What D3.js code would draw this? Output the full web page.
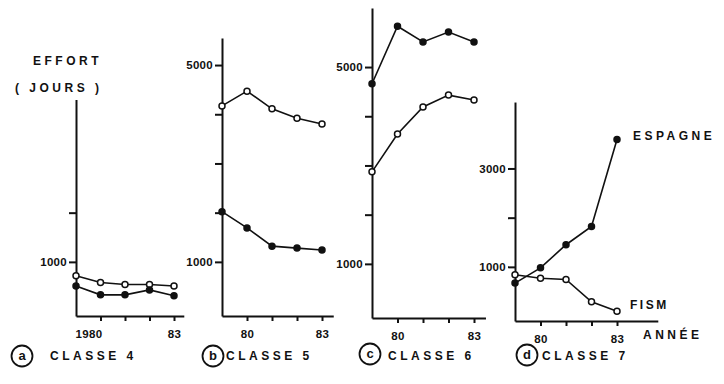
<!DOCTYPE html>
<html lang="fr">
<head>
<meta charset="UTF-8">
<title>Effort par classe</title>
<script src="https://d3js.org/d3.v7.min.js"></script>
<style>
  body { margin: 0; background: #fff; }
  svg { display: block; }
  .lbl {
    font-family: 'Liberation Sans', Arial, sans-serif;
    font-weight: bold;
    font-size: 12px;
    letter-spacing: 3.5px;
    fill: #111;
  }
  .tick text {
    font-family: 'Liberation Sans', Arial, sans-serif;
    font-weight: bold;
    font-size: 11.5px;
    letter-spacing: 0.3px;
    fill: #111;
  }
  .axis path, .axis line { stroke: #111; stroke-width: 2; }
  .serie { fill: none; stroke: #111; stroke-width: 1.6; }
</style>
</head>
<body>
<svg width="724" height="384"></svg>
<script>
// annees et valeurs (jours d'effort)
const years = [1979, 1980, 1981, 1982, 1983];
const xTickYears = [1980, 1981, 1982, 1983];
const classe4Open = [720, 580, 540, 540, 510];
const classe4Dot = [510, 330, 330, 430, 310];
const classe5Open = [4170, 4470, 4110, 3920, 3800];
const classe5Dot = [2020, 1690, 1320, 1280, 1240];
const classe6Dot = [4660, 5830, 5510, 5710, 5510];
const classe6Open = [2870, 3640, 4190, 4430, 4330];
const espagne = [670, 980, 1450, 1820, 3590];
const fism = [840, 770, 745, 290, 100];

const panelLetters = ["a", "b", "c", "d"];
const panelTitles = ["CLASSE 4", "CLASSE 5", "CLASSE 6", "CLASSE 7"];
const xTickLabels = [["1980", "", "", "83"], ["80", "", "", "83"], ["80", "", "", "83"], ["80", "", "", "83"]];
const yTicks = [[1000, 2000], [1000, 2000, 3000, 4000, 5000], [1000, 2000, 3000, 4000, 5000], [1000, 2000, 3000]];
const yTickLabels = [[1000], [1000, 5000], [1000, 5000], [1000, 3000]];

const svg = d3.select("svg");

// echelle commune, chaque panneau est un peu decale (scan)
const baseY = d3.scaleLinear().domain([-100, 6200]).range([316, 6]);

const panels = [
  { x0: 76, step: 24.5, dy: 0, top: 4300, xEnd: 1983.4,
    series: [{ v: classe4Open, fill: "#fff" }, { v: classe4Dot, fill: "#111" }],
    circle: [22, 356], title: 50 },
  { x0: 222, step: 25, dy: 0, top: 5550, xEnd: 1983.45,
    series: [{ v: classe5Open, fill: "#fff" }, { v: classe5Dot, fill: "#111" }],
    circle: [213, 356], title: 226 },
  { x0: 372, step: 25.5, dy: 2, top: 6200, xEnd: 1983.45,
    series: [{ v: classe6Dot, fill: "#111" }, { v: classe6Open, fill: "#fff" }],
    circle: [370, 354], title: 388 },
  { x0: 515, step: 25.5, dy: 5, top: 4350, xEnd: 1984.6,
    series: [{ v: espagne, fill: "#111" }, { v: fism, fill: "#fff" }],
    circle: [527, 355], title: 542 }
];

panels.forEach((p, i) => {
  const y = d3.scaleLinear()
    .domain([-100, p.top])
    .range([baseY(-100) + p.dy, baseY(p.top) + p.dy]);
  const x = d3.scaleLinear()
    .domain([1979, p.xEnd])
    .range([p.x0, p.x0 + (p.xEnd - 1979) * p.step]);

  const g = svg.append("g");

  const yAxis = g.append("g")
    .attr("class", "axis")
    .attr("transform", `translate(${p.x0},0)`)
    .call(d3.axisLeft(y)
      .tickValues(yTicks[i])
      .tickSize(7)
      .tickSizeOuter(0)
      .tickPadding(2)
      .tickFormat(d => yTickLabels[i].includes(d) ? d : ""));
  yAxis.attr("font-family", null).attr("font-size", null);

  const xAxis = g.append("g")
    .attr("class", "axis")
    .attr("transform", `translate(0,${y(-100)})`)
    .call(d3.axisBottom(x)
      .tickValues(xTickYears)
      .tickSize(5)
      .tickSizeOuter(0)
      .tickPadding(9)
      .tickFormat((d, k) => xTickLabels[i][k]));
  xAxis.attr("font-family", null).attr("font-size", null);
  xAxis.selectAll(".tick text")
    .filter(function() { return this.textContent.length === 4; })
    .attr("dx", -12);

  const line = d3.line()
    .x((d, k) => x(years[k]))
    .y(d => y(d));

  p.series.forEach(s => {
    g.append("path")
      .attr("class", "serie")
      .attr("d", line(s.v));
    g.selectAll(null)
      .data(s.v)
      .enter().append("circle")
      .attr("cx", (d, k) => x(years[k]))
      .attr("cy", d => y(d))
      .attr("r", 3)
      .attr("fill", s.fill)
      .attr("stroke", "#111")
      .attr("stroke-width", 1.5);
  });

  // lettre entouree + titre du panneau
  g.append("circle")
    .attr("cx", p.circle[0])
    .attr("cy", p.circle[1])
    .attr("r", 10.5)
    .attr("fill", "none")
    .attr("stroke", "#111")
    .attr("stroke-width", 1.8);
  g.append("text")
    .attr("class", "lbl")
    .attr("x", p.circle[0])
    .attr("y", p.circle[1] + 4)
    .attr("text-anchor", "middle")
    .style("letter-spacing", "0px")
    .style("font-size", "13px")
    .text(panelLetters[i]);
  g.append("text")
    .attr("class", "lbl")
    .attr("x", p.title)
    .attr("y", 360)
    .text(panelTitles[i]);
});

// textes libres
svg.append("text").attr("class", "lbl").attr("x", 33).attr("y", 65).text("EFFORT");
svg.append("text").attr("class", "lbl").attr("x", 15).attr("y", 92).text("( JOURS )");
svg.append("text").attr("class", "lbl").attr("x", 633).attr("y", 140).text("ESPAGNE");
svg.append("text").attr("class", "lbl").attr("x", 630).attr("y", 309).style("letter-spacing", "2.5px").text("FISM");
svg.append("text").attr("class", "lbl").attr("x", 643).attr("y", 339).text("ANNÉE");
</script>
</body>
</html>
